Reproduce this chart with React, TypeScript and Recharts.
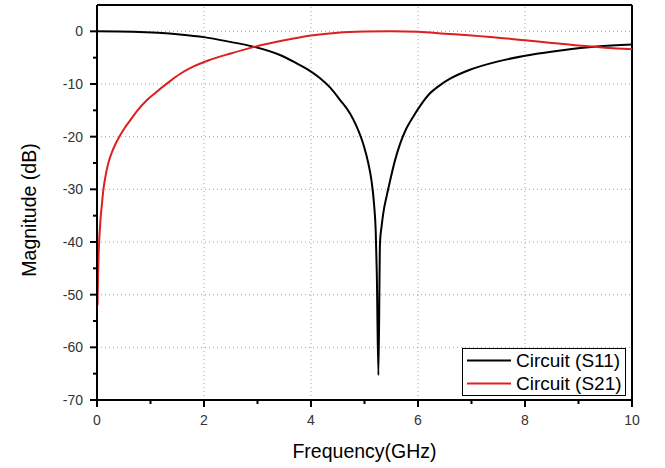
import React from 'react';
import {
  LineChart,
  Line,
  XAxis,
  YAxis,
  ReferenceLine,
  Legend,
} from 'recharts';

// S11 trace (black)
const s11Freq = [0, 0.67, 1.55, 2.0, 2.49, 2.92, 3.42, 3.7, 3.98, 4.17, 4.36, 4.54, 4.73, 4.85, 4.98, 5.07, 5.13, 5.18, 5.21, 5.23, 5.26, 5.29, 5.32, 5.35, 5.42, 5.48, 5.57, 5.66, 5.78, 5.91, 6.05, 6.22, 6.4, 6.6, 6.97, 7.5, 8.09, 8.7, 9.34, 10];
const s11Db = [0, -0.1, -0.6, -1.1, -2.0, -2.9, -4.5, -5.9, -7.5, -8.9, -10.7, -13, -15.6, -18, -21.5, -25, -28.3, -33, -38, -46, -65.3, -40, -37, -34.6, -31, -28.3, -24.5, -21.5, -18.5, -16.2, -14, -11.8, -10.3, -9.0, -7.3, -5.7, -4.5, -3.6, -2.9, -2.5];

// S21 trace (red)
const s21Freq = [0.01, 0.015, 0.02, 0.03, 0.04, 0.06, 0.09, 0.12, 0.15, 0.2, 0.27, 0.35, 0.43, 0.52, 0.62, 0.75, 0.93, 1.1, 1.36, 1.55, 1.74, 2.09, 2.5, 2.92, 3.5, 4.0, 4.5, 5.0, 5.5, 6.0, 6.5, 7.0, 7.5, 8.0, 8.5, 9.0, 9.5, 10];
const s21Db = [-52, -48.5, -46, -42.5, -40, -36.5, -33, -30, -28, -25.5, -23.2, -21.3, -19.8, -18.3, -16.9, -15.1, -13.1, -11.6, -9.5, -8.1, -7, -5.5, -4.2, -3.0, -1.7, -0.8, -0.25, -0.05, 0, -0.1, -0.45, -0.8, -1.2, -1.7, -2.2, -2.7, -3.1, -3.4];

const xTicks = [0, 1, 2, 3, 4, 5, 6, 7, 8, 9, 10];
const yTicks = [-70, -65, -60, -55, -50, -45, -40, -35, -30, -25, -20, -15, -10, -5, 0];
const gridX = [2, 4, 6, 8];
const gridY = [0, -10, -20, -30, -40, -50, -60];

const FONT = '"Liberation Sans", Arial, sans-serif';
const RED = '#dd1f1f';

const s11Data = s11Freq.map((f, i) => ({ f, v: s11Db[i] }));
const s21Data = s21Freq.map((f, i) => ({ f, v: s21Db[i] }));

const XTick = ({ x, y, payload }: any) => {
  const major = payload.value % 2 === 0;
  return (
    <g>
      <line x1={x} x2={x} y1={y} y2={y + (major ? 7 : 4)} stroke="#000" strokeWidth={2} />
      {major && (
        <text x={x} y={y + 25} textAnchor="middle" fontSize={14} fontFamily={FONT} fill="#333">
          {payload.value}
        </text>
      )}
    </g>
  );
};

const YTick = ({ x, y, payload }: any) => {
  const major = payload.value % 10 === 0;
  return (
    <g>
      <line x1={x} x2={x - (major ? 7 : 4)} y1={y} y2={y} stroke="#000" strokeWidth={2} />
      {major && (
        <text x={x - 14} y={y + 5} textAnchor="end" fontSize={14} fontFamily={FONT} fill="#333">
          {payload.value}
        </text>
      )}
    </g>
  );
};

const legendItems = [
  { name: 'Circuit (S11)', color: '#000' },
  { name: 'Circuit (S21)', color: RED },
];

const renderLegend = () => (
  <div
    style={{
      border: '1px solid #000',
      background: '#fff',
      width: 164,
      height: 48,
      boxSizing: 'border-box',
      fontFamily: FONT,
      fontSize: 19,
      color: '#000',
    }}
  >
    {legendItems.map(item => (
      <div key={item.name} style={{ display: 'flex', alignItems: 'center', height: 23 }}>
        <svg width={50} height={23} style={{ flex: 'none' }}>
          <line x1={4} x2={48} y1={11.5} y2={11.5} stroke={item.color} strokeWidth={2} />
        </svg>
        <span style={{ marginLeft: 3, whiteSpace: 'nowrap' }}>{item.name}</span>
      </div>
    ))}
  </div>
);

export default function App() {
  return (
    <div style={{ position: 'absolute', left: 0, top: 0, background: '#fff' }}>
      <LineChart width={665} height={468} margin={{ top: 5, right: 33, bottom: 38, left: 0 }}>
        <XAxis
          dataKey="f"
          type="number"
          domain={[0, 10]}
          ticks={xTicks}
          interval={0}
          height={30}
          tickSize={0}
          tickMargin={0}
          tick={<XTick />}
          axisLine={{ stroke: '#000', strokeWidth: 2 }}
          allowDataOverflow
          label={{
            content: () => (
              <text x={364.5} y={458} textAnchor="middle" fontSize={19.5} fontFamily={FONT} fill="#000">
                Frequency(GHz)
              </text>
            ),
          }}
        />
        <YAxis
          dataKey="v"
          type="number"
          domain={[-70, 5]}
          ticks={yTicks}
          interval={0}
          width={97}
          tickSize={0}
          tickMargin={0}
          tick={<YTick />}
          axisLine={{ stroke: '#000', strokeWidth: 2 }}
          allowDataOverflow
          label={{
            content: () => (
              <text
                transform="translate(36,210) rotate(-90)"
                textAnchor="middle"
                fontSize={19.5}
                fontFamily={FONT}
                fill="#000"
              >
                Magnitude (dB)
              </text>
            ),
          }}
        />

        {gridX.map(v => (
          <ReferenceLine key={`gx${v}`} x={v} stroke="#a0a0a0" strokeDasharray="1 3" />
        ))}
        {gridY.map(v => (
          <ReferenceLine key={`gy${v}`} y={v} stroke="#a0a0a0" strokeDasharray="1 3" />
        ))}

        {/* frame: top and right border */}
        <ReferenceLine y={5} stroke="#000" strokeWidth={2} />
        <ReferenceLine x={10} stroke="#000" strokeWidth={2} />

        <Line
          data={s11Data}
          dataKey="v"
          type="monotone"
          stroke="#000"
          strokeWidth={2}
          dot={false}
          isAnimationActive={false}
          name="Circuit (S11)"
        />
        <Line
          data={s21Data}
          dataKey="v"
          type="monotone"
          stroke={RED}
          strokeWidth={2}
          dot={false}
          isAnimationActive={false}
          name="Circuit (S21)"
        />

        <Legend
          layout="vertical"
          align="center"
          verticalAlign="middle"
          content={renderLegend}
          wrapperStyle={{ left: 462, top: 348, width: 164, height: 48 }}
        />
      </LineChart>
    </div>
  );
}
